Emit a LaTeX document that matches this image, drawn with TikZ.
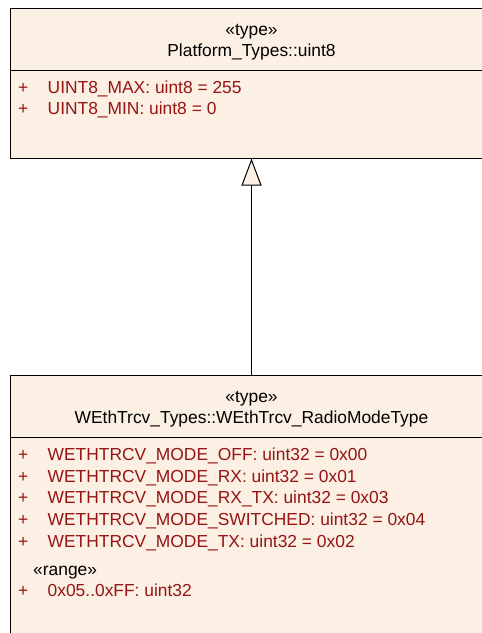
\documentclass[tikz,border=0pt]{standalone}
\usepackage{fontspec}
\setmainfont{Liberation Sans}
\usetikzlibrary{arrows.meta}
\definecolor{boxfill}{RGB}{251,240,227}
\definecolor{attrred}{RGB}{150,20,20}
\tikzset{
  umlbox/.style={draw=black, line width=1pt, fill=boxfill, rectangle, anchor=north west, inner sep=0pt},
  divider/.style={draw=black, line width=1pt},
  title/.style={anchor=base, inner sep=0pt, font=\fontsize{17.4}{20}\selectfont, text=black},
  attr/.style={anchor=base west, inner sep=0pt, font=\fontsize{17.4}{20}\selectfont, text=attrred},
  stereo/.style={anchor=base west, inner sep=0pt, font=\fontsize{17.4}{20}\selectfont, text=black},
  gen/.style={draw=black, line width=1pt, -{Triangle[open, width=20pt, length=27pt, fill=boxfill]}}
}
\begin{document}
\begin{tikzpicture}[x=1pt,y=1pt]
\useasboundingbox (0,0) rectangle (482,-633);
% upper class
\node[umlbox, minimum width=500pt, minimum height=149.5pt] (top) at (10,-8) {};
\draw[divider] (10,-70.5) -- (520,-70.5);
\node[title] (t1) at (251.5,-35) {«type»};
\node[title] (t2) at (251.5,-56) {Platform\_Types::uint8};
\node[attr] (p1) at (18,-93.5) {+};
\node[attr] (a1) at (47.5,-93.5) {UINT8\_MAX: uint8 = 255};
\node[attr] (p2) at (18,-114.5) {+};
\node[attr] (a2) at (47.5,-114.5) {UINT8\_MIN: uint8 = 0};
% lower class
\node[umlbox, minimum width=500pt, minimum height=300pt] (low) at (10,-375) {};
\draw[divider] (10,-437.5) -- (520,-437.5);
\node[title] (b1) at (251.5,-402) {«type»};
\node[title] (b2) at (251.5,-423.5) {WEthTrcv\_Types::WEthTrcv\_RadioModeType};
\node[attr] (q1) at (18,-460) {+};
\node[attr] (c1) at (47.5,-460) {WETHTRCV\_MODE\_OFF: uint32 = 0x00};
\node[attr] (q2) at (18,-482) {+};
\node[attr] (c2) at (47.5,-482) {WETHTRCV\_MODE\_RX: uint32 = 0x01};
\node[attr] (q3) at (18,-503.5) {+};
\node[attr] (c3) at (47.5,-503.5) {WETHTRCV\_MODE\_RX\_TX: uint32 = 0x03};
\node[attr] (q4) at (18,-525.5) {+};
\node[attr] (c4) at (47.5,-525.5) {WETHTRCV\_MODE\_SWITCHED: uint32 = 0x04};
\node[attr] (q5) at (18,-547) {+};
\node[attr] (c5) at (47.5,-547) {WETHTRCV\_MODE\_TX: uint32 = 0x02};
\node[stereo] (r1) at (33,-575) {«range»};
\node[attr] (q6) at (18,-596.5) {+};
\node[attr] (c6) at (47.5,-596.5) {0x05..0xFF: uint32};
% generalization
\coordinate (g) at (251.5,-375);
\draw[gen] (g) -- (g |- top.south);
\end{tikzpicture}
\end{document}
